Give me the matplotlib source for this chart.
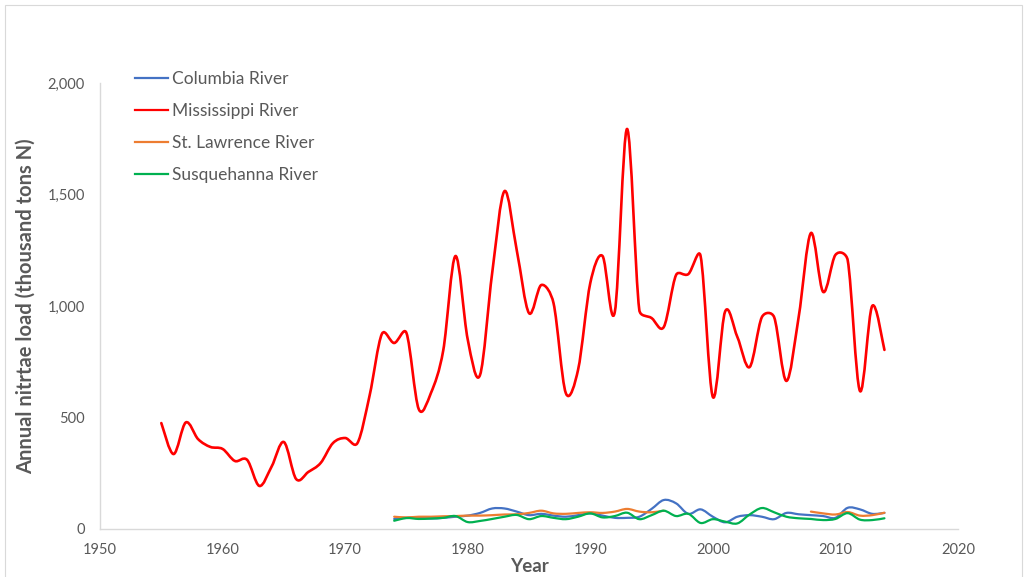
import numpy as np
import matplotlib
matplotlib.use("Agg")
import matplotlib.pyplot as plt
from matplotlib.path import Path
from matplotlib.patches import PathPatch, Rectangle
from matplotlib.lines import Line2D
from matplotlib.ticker import FuncFormatter, MultipleLocator

# Annual nitrate load, thousand tons N
mississippi_years = list(range(1955, 2015))
mississippi_values = [
    475, 336, 478, 403, 368, 359, 305, 310, 193, 280,
    390, 224, 256, 296, 385, 408, 385, 600, 875, 834,
    879, 538, 610, 800, 1224, 850, 690, 1150, 1515, 1250,
    968, 1094, 1013, 610, 713, 1103, 1224, 973, 1794, 982,
    946, 906, 1139, 1143, 1224, 592, 975, 861, 726, 950,
    950, 664, 950, 1327, 1063, 1229, 1206, 619, 1000, 803,
]

columbia_years = list(range(1974, 2015))
columbia_values = [
    45, 50, 50, 47, 50, 55, 60, 72, 92, 92,
    78, 62, 68, 60, 55, 62, 70, 60, 50, 50,
    55, 90, 130, 115, 68, 88, 55, 30, 55, 62,
    55, 44, 72, 66, 62, 58, 50, 95, 88, 68, 72,
]

st_lawrence_years = list(range(1974, 1997)) + list(range(2008, 2015))
st_lawrence_values = [
    55, 52, 55, 55, 57, 58, 60, 60, 62, 65,
    66, 72, 82, 70, 68, 72, 75, 72, 78, 90,
    78, 75, 82,
    78, 70, 65, 76, 60, 62, 73,
]

susquehanna_years = list(range(1974, 2015))
susquehanna_values = [
    37, 49, 45, 47, 50, 58, 31, 36, 45, 55,
    63, 44, 58, 50, 44, 55, 70, 52, 58, 73,
    44, 62, 82, 58, 68, 27, 44, 33, 25, 65,
    94, 75, 55, 48, 45, 40, 45, 71, 42, 40, 48,
]

series = [
    ("Columbia River", columbia_years, columbia_values, "#4472C4", 1.6),
    ("Mississippi River", mississippi_years, mississippi_values, "#FF0000", 1.9),
    ("St. Lawrence River", st_lawrence_years, st_lawrence_values, "#ED7D31", 1.6),
    ("Susquehanna River", susquehanna_years, susquehanna_values, "#00B050", 1.6),
]

X_RANGE = (1950, 2020)
Y_RANGE = (0, 2000)
AX_RECT = [0.0975, 0.0832, 0.8362, 0.773]
FIG_W, FIG_H, DPI = 10.26, 5.77, 100


def split_runs(years, values):
    """Split a series into runs of consecutive years."""
    runs, cur_x, cur_y = [], [], []
    for x, y in zip(years, values):
        if cur_x and x != cur_x[-1] + 1:
            runs.append((cur_x, cur_y))
            cur_x, cur_y = [], []
        cur_x.append(x)
        cur_y.append(y)
    if cur_x:
        runs.append((cur_x, cur_y))
    return runs


def smooth_path(xs, ys, sx, sy):
    """Cubic Bezier path through the points.

    Catmull-Rom style tangents, with each control arm limited to half of
    its segment length (measured in screen units) to avoid overshoot.
    """
    scale = np.array([sx, sy])
    p = np.column_stack([xs, ys]).astype(float) * scale
    n = len(p)
    verts = [p[0]]
    codes = [Path.MOVETO]
    for i in range(n - 1):
        p0 = p[i - 1] if i > 0 else p[i]
        p1 = p[i]
        p2 = p[i + 1]
        p3 = p[i + 2] if i + 2 < n else p[i + 1]
        seg = np.hypot(*(p2 - p1))
        t1 = (p2 - p0) / 6.0
        t2 = (p3 - p1) / 6.0
        for t in (t1, t2):
            L = np.hypot(*t)
            if L > seg / 2 and L > 0:
                t *= (seg / 2) / L
        verts += [p1 + t1, p2 - t2, p2]
        codes += [Path.CURVE4] * 3
    verts = np.array(verts) / scale
    return Path(verts, codes)


fig = plt.figure(figsize=(FIG_W, FIG_H), dpi=DPI)
fig.patch.set_facecolor("white")

# chart area outline
fig.patches.append(Rectangle((0.005, -0.02), 0.991, 1.011, transform=fig.transFigure,
                             fill=False, edgecolor="#d9d9d9", linewidth=0.8))

ax = fig.add_axes(AX_RECT)
font = "Lato"
text_grey = "#595959"

# pixels per data unit along each axis
px_x = AX_RECT[2] * FIG_W * DPI / (X_RANGE[1] - X_RANGE[0])
px_y = AX_RECT[3] * FIG_H * DPI / (Y_RANGE[1] - Y_RANGE[0])

handles = []
for name, yrs, vals, color, lw in series:
    for rx, ry in split_runs(yrs, vals):
        patch = PathPatch(smooth_path(rx, ry, px_x, px_y), facecolor="none",
                          edgecolor=color, linewidth=lw,
                          capstyle="round", joinstyle="round")
        ax.add_patch(patch)
    handles.append(Line2D([], [], color=color, linewidth=1.6, label=name))

ax.set_xlim(*X_RANGE)
ax.set_ylim(*Y_RANGE)
ax.xaxis.set_major_locator(MultipleLocator(10))
ax.yaxis.set_major_locator(MultipleLocator(500))
ax.yaxis.set_major_formatter(FuncFormatter(lambda v, _: f"{v:,.0f}"))

for side in ("top", "right"):
    ax.spines[side].set_visible(False)
for side in ("left", "bottom"):
    ax.spines[side].set_color("#d9d9d9")
    ax.spines[side].set_linewidth(1.0)

ax.tick_params(axis="both", length=0, labelsize=10.5, labelcolor=text_grey)
ax.tick_params(axis="x", pad=10)
ax.tick_params(axis="y", pad=11)
for lab in ax.get_xticklabels() + ax.get_yticklabels():
    lab.set_fontfamily(font)

ax.set_xlabel("Year", fontsize=13.5, fontweight="bold", color=text_grey,
              fontfamily=font, labelpad=1)
ax.set_ylabel("Annual nitrtae load (thousand tons N)", fontsize=14.5,
              fontweight="bold", color=text_grey, fontfamily=font, labelpad=8)

leg = ax.legend(handles=handles, loc="upper left", bbox_to_anchor=(0.022, 1.062),
                frameon=False, handlelength=1.95, handletextpad=0.2,
                labelspacing=0.93, prop={"family": font, "size": 12.5})
for t in leg.get_texts():
    t.set_color(text_grey)

fig.savefig("out.png", dpi=DPI, facecolor="white")
